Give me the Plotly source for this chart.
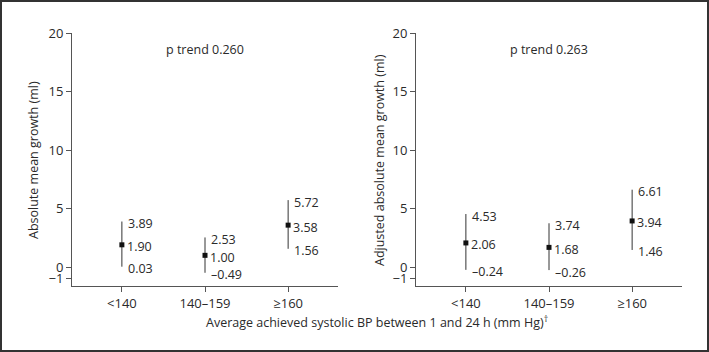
import plotly.graph_objects as go

categories = ["<140", "140–159", "≥160"]
abs_mean = [1.90, 1.00, 3.58]
abs_upper = [3.89, 2.53, 5.72]
abs_lower = [0.03, -0.49, 1.56]
adj_mean = [2.06, 1.68, 3.94]
adj_upper = [4.53, 3.74, 6.61]
adj_lower = [-0.24, -0.26, 1.46]
p_trends = ["p trend 0.260", "p trend 0.263"]
y_titles = ["Absolute mean growth (ml)", "Adjusted absolute mean growth (ml)"]
x_title = "Average achieved systolic BP between 1 and 24 h (mm Hg)<sup>†</sup>"
ytick_vals = [-1, 0, 5, 10, 15, 20]
ytick_text = ["−1", "0", "5", "10", "15", "20"]

FONT = "Open Sans, Noto Sans, sans-serif"
TXT = "#2a2a2a"
AX = "#555555"

W, H = 709, 352
ML, MR, MT, MB = 72, 27, 33, 66
PW = W - ML - MR
PH = H - MT - MB

def px_x(p):
    return (p - ML) / PW

def px_y(p):
    return (H - MB - p) / PH

fig = go.Figure()
panels = [(abs_mean, abs_upper, abs_lower), (adj_mean, adj_upper, adj_lower)]

def fmt(v):
    s = f"{abs(v):.2f}"
    return ("–" + s) if v < 0 else s

for i, (mean, up, lo) in enumerate(panels):
    xa = "x" if i == 0 else "x2"
    ya = "y" if i == 0 else "y2"
    xs = list(range(len(categories)))
    fig.add_trace(go.Scatter(
        x=xs, y=mean, xaxis=xa, yaxis=ya, mode="markers",
        marker=dict(symbol="square", size=5, color="#111111"),
        error_y=dict(type="data", symmetric=False,
                     array=[u - m for u, m in zip(up, mean)],
                     arrayminus=[m - l for m, l in zip(mean, lo)],
                     color="#333333", thickness=1, width=0),
        showlegend=False, hoverinfo="skip"))
    for x, m, u, l in zip(xs, mean, up, lo):
        for v, shift in ((u, 4), (m, 3), (l, 4)):
            fig.add_annotation(x=x, y=v, xref=xa, yref=ya, text=fmt(v),
                               showarrow=False, xanchor="left", yanchor="middle",
                               xshift=shift, yshift=-2,
                               font=dict(family=FONT, size=12.5, color=TXT))
    fig.add_annotation(x=1, y=18.6, xref=xa, yref=ya, text=p_trends[i],
                       showarrow=False, xanchor="center", yanchor="middle",
                       font=dict(family=FONT, size=12.5, color=TXT))

left_dom = [0, px_x(338)]
right_dom = [px_x(416), 1]

axis_common = dict(showline=True, linecolor=AX, linewidth=1, ticks="outside",
                   ticklen=5, tickcolor=AX, showgrid=False, zeroline=False,
                   automargin=False,
                   tickfont=dict(family=FONT, size=13, color=TXT))

fig.update_layout(
    width=W, height=H,
    margin=dict(l=ML, r=MR, t=MT, b=MB, autoexpand=False),
    paper_bgcolor="white", plot_bgcolor="white",
    xaxis=dict(domain=left_dom, range=[-0.6, 2.6], tickvals=[0, 1, 2],
               ticktext=categories, anchor="y", **axis_common),
    xaxis2=dict(domain=right_dom, range=[-0.6, 2.6], tickvals=[0, 1, 2],
                ticktext=categories, anchor="y2", **axis_common),
    yaxis=dict(domain=[0, 1], range=[-1.62, 20], tickvals=ytick_vals,
               ticktext=ytick_text, anchor="x", **axis_common),
    yaxis2=dict(domain=[0, 1], range=[-1.62, 20], tickvals=ytick_vals,
                ticktext=ytick_text, anchor="x2", **axis_common),
)

# y-axis titles
for xp, t in ((33, y_titles[0]), (379, y_titles[1])):
    fig.add_annotation(x=px_x(xp), y=px_y(160), xref="paper", yref="paper",
                       text=t, textangle=-90, showarrow=False,
                       xanchor="center", yanchor="middle",
                       font=dict(family=FONT, size=12.5, color=TXT))

# shared x-axis title
fig.add_annotation(x=px_x(377), y=px_y(322), xref="paper", yref="paper",
                   text=x_title, showarrow=False, xanchor="center", yanchor="middle",
                   font=dict(family=FONT, size=12.5, color=TXT))

# outer frame
fig.add_shape(type="rect", xref="paper", yref="paper",
              x0=px_x(1), x1=px_x(708),
              y0=px_y(351), y1=px_y(1),
              line=dict(color="#333333", width=2), fillcolor="rgba(0,0,0,0)")

fig.write_html("out.html", config={"displayModeBar": False},
               post_script="document.body.style.margin='0';document.body.style.overflow='hidden';")
